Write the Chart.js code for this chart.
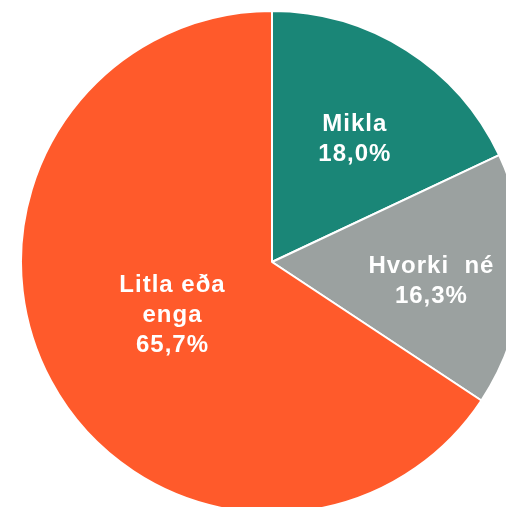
<!DOCTYPE html>
<html>
<head>
<meta charset="utf-8">
<script src="https://cdn.jsdelivr.net/npm/chart.js@4/dist/chart.umd.min.js"></script>
<style>
html,body{margin:0;padding:0;background:#fff;overflow:hidden;width:506px;height:507px;}
#wrap{position:absolute;left:20px;top:10px;width:504px;height:504px;}
</style>
</head>
<body>
<div id="wrap"><canvas id="pieChart"></canvas></div>
<script>
// categories and shares (%)
const labels = [['Mikla'], ['Hvorki  né'], ['Litla eða', 'enga']];
const values = [18.0, 16.3, 65.7];
const colors = ['#1a8677', '#9ba1a0', '#ff5a2b'];

// where each label sits: distance (part of radius) and position along the slice
const labelRadius = [0.59, 0.64, 0.45];
const labelSweep = [0.525, 0.55, 0.5];

const sliceLabels = {
  id: 'sliceLabels',
  afterDatasetsDraw(chart) {
    const ctx = chart.ctx;
    const meta = chart.getDatasetMeta(0);
    ctx.save();
    ctx.fillStyle = '#fff';
    ctx.font = 'bold 24px "Liberation Sans", Arial, sans-serif';
    ctx.letterSpacing = '1px';
    ctx.textAlign = 'center';
    ctx.textBaseline = 'middle';
    meta.data.forEach((arc, i) => {
      const p = arc.getProps(['x', 'y', 'startAngle', 'endAngle', 'outerRadius'], true);
      const ang = p.startAngle + (p.endAngle - p.startAngle) * labelSweep[i];
      const r = p.outerRadius * labelRadius[i];
      const cx = p.x + Math.cos(ang) * r;
      const cy = p.y + Math.sin(ang) * r;
      const lines = labels[i].concat([values[i].toFixed(1).replace('.', ',') + '%']);
      const lh = 30;
      const top = cy - (lines.length - 1) * lh / 2;
      lines.forEach((t, j) => ctx.fillText(t, cx, top + j * lh));
    });
    ctx.restore();
  }
};

new Chart(document.getElementById('pieChart'), {
  type: 'pie',
  data: {
    labels: labels.map(l => l.join(' ')),
    datasets: [{
      data: values,
      backgroundColor: colors,
      borderColor: '#fff',
      borderWidth: 2
    }]
  },
  options: {
    responsive: true,
    maintainAspectRatio: false,
    animation: false,
    layout: {padding: 0},
    plugins: {legend: {display: false}, tooltip: {enabled: false}}
  },
  plugins: [sliceLabels]
});
</script>
</body>
</html>
